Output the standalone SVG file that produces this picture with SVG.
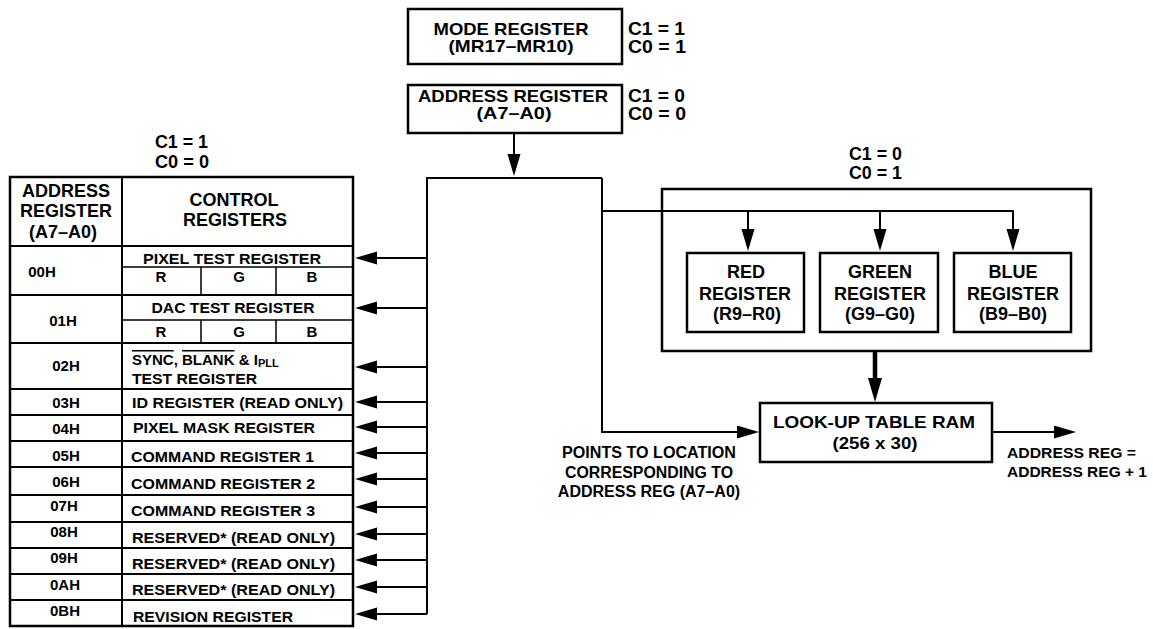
<svg xmlns="http://www.w3.org/2000/svg" width="1153" height="629" viewBox="0 0 1153 629">
<defs>
<style>
text{font-family:"Liberation Sans",Arial,Helvetica,sans-serif;font-weight:bold;fill:#000}
.m{text-anchor:middle}
.h18{font-size:18px}
.h17{font-size:17px}
.h16{font-size:16px}
.b15{font-size:15px}
.box{fill:none;stroke:#000;stroke-width:2.5}
.ln{fill:none;stroke:#000;stroke-width:2}
.thin{fill:none;stroke:#000;stroke-width:1.5}
.conn{fill:none;stroke:#000;stroke-width:2}
.thick{fill:none;stroke:#000;stroke-width:4.5}
.ov{text-decoration:overline}
</style>
<marker id="ah" markerUnits="userSpaceOnUse" markerWidth="23" markerHeight="14" refX="1" refY="6.5" orient="auto"><path d="M0,0 L22,6.5 L0,13 z" fill="#000"/></marker>
<marker id="ahb" markerUnits="userSpaceOnUse" markerWidth="25" markerHeight="15" refX="1" refY="7" orient="auto"><path d="M0,0 L24,7 L0,14 z" fill="#000"/></marker>
</defs>
<rect width="1153" height="629" fill="#fff"/>

<g id="mode-register">
<rect x="408" y="9" width="214" height="55" class="box"/>
<text x="511" y="35" class="m h17" textLength="155" lengthAdjust="spacingAndGlyphs">MODE REGISTER</text>
<text x="511" y="52" class="m h17" textLength="125" lengthAdjust="spacingAndGlyphs">(MR17–MR10)</text>
</g>
<g id="mode-select">
<text x="628" y="35" class="h18" textLength="57" lengthAdjust="spacingAndGlyphs">C1 = 1</text>
<text x="628" y="53" class="h18" textLength="58" lengthAdjust="spacingAndGlyphs">C0 = 1</text>
</g>

<g id="address-register">
<rect x="408" y="85" width="214" height="48" class="box"/>
<text x="513" y="102" class="m h17" textLength="190" lengthAdjust="spacingAndGlyphs">ADDRESS REGISTER</text>
<text x="514" y="119" class="m h17" textLength="75" lengthAdjust="spacingAndGlyphs">(A7–A0)</text>
</g>
<g id="address-select">
<text x="628" y="102" class="h18" textLength="57" lengthAdjust="spacingAndGlyphs">C1 = 0</text>
<text x="628" y="120" class="h18" textLength="58" lengthAdjust="spacingAndGlyphs">C0 = 0</text>
</g>

<g id="control-select">
<text x="155" y="148" class="h18" textLength="53" lengthAdjust="spacingAndGlyphs">C1 = 1</text>
<text x="155" y="168" class="h18" textLength="54" lengthAdjust="spacingAndGlyphs">C0 = 0</text>
</g>

<g id="control-table">
<rect x="10" y="177" width="343" height="449" class="box"/>
<path d="M122,177 V626" class="ln"/>
<path d="M10,246 H353 M10,295 H353 M10,343 H353 M10,389 H353 M10,415 H353 M10,441 H353 M10,467 H353 M10,495 H353 M10,522 H353 M10,548 H353 M10,574 H353 M10,600 H353" class="ln"/>
<path d="M122,267 H353 M201,267 V295 M276,267 V295 M122,320 H353 M201,320 V343 M276,320 V343" class="thin"/>
<text x="66" y="197" class="m h18">ADDRESS</text>
<text x="66" y="217" class="m h18">REGISTER</text>
<text x="63" y="238" class="m h18">(A7–A0)</text>
<text x="234" y="206" class="m h18">CONTROL</text>
<text x="235" y="226" class="m h18">REGISTERS</text>

<text x="42" y="277" class="m b15">00H</text>
<text x="232" y="264" class="m b15" textLength="178" lengthAdjust="spacingAndGlyphs">PIXEL TEST REGISTER</text>
<text x="161" y="282" class="m b15">R</text>
<text x="239" y="282" class="m b15">G</text>
<text x="312" y="282" class="m b15">B</text>

<text x="63" y="326" class="m b15">01H</text>
<text x="233" y="313" class="m b15" textLength="163" lengthAdjust="spacingAndGlyphs">DAC TEST REGISTER</text>
<text x="161" y="337" class="m b15">R</text>
<text x="239" y="337" class="m b15">G</text>
<text x="312" y="337" class="m b15">B</text>

<text x="66" y="371" class="m b15">02H</text>
<text x="132" y="365" class="b15"><tspan class="ov">SYNC</tspan>, <tspan class="ov">BLANK</tspan> &amp; I<tspan font-size="11" dy="2">PLL</tspan></text>
<text x="132" y="384" class="b15" textLength="125" lengthAdjust="spacingAndGlyphs">TEST REGISTER</text>

<text x="66" y="408" class="m b15">03H</text>
<text x="132" y="408" class="b15" textLength="211" lengthAdjust="spacingAndGlyphs">ID REGISTER (READ ONLY)</text>
<text x="66" y="434" class="m b15">04H</text>
<text x="133" y="433" class="b15" textLength="182" lengthAdjust="spacingAndGlyphs">PIXEL MASK REGISTER</text>
<text x="66" y="461" class="m b15">05H</text>
<text x="131" y="462" class="b15" textLength="183" lengthAdjust="spacingAndGlyphs">COMMAND REGISTER 1</text>
<text x="66" y="487" class="m b15">06H</text>
<text x="131" y="489" class="b15" textLength="184" lengthAdjust="spacingAndGlyphs">COMMAND REGISTER 2</text>
<text x="64" y="511" class="m b15">07H</text>
<text x="131" y="516" class="b15" textLength="184" lengthAdjust="spacingAndGlyphs">COMMAND REGISTER 3</text>
<text x="64" y="537" class="m b15">08H</text>
<text x="132" y="543" class="b15" textLength="203" lengthAdjust="spacingAndGlyphs">RESERVED* (READ ONLY)</text>
<text x="64" y="563" class="m b15">09H</text>
<text x="132" y="569" class="b15" textLength="203" lengthAdjust="spacingAndGlyphs">RESERVED* (READ ONLY)</text>
<text x="65" y="590" class="m b15">0AH</text>
<text x="132" y="595" class="b15" textLength="203" lengthAdjust="spacingAndGlyphs">RESERVED* (READ ONLY)</text>
<text x="65" y="616" class="m b15">0BH</text>
<text x="133" y="622" class="b15" textLength="160" lengthAdjust="spacingAndGlyphs">REVISION REGISTER</text>
</g>

<g id="palette-select">
<text x="849" y="160" class="h18" textLength="53" lengthAdjust="spacingAndGlyphs">C1 = 0</text>
<text x="849" y="179" class="h18" textLength="53" lengthAdjust="spacingAndGlyphs">C0 = 1</text>
</g>

<g id="palette-block">
<rect x="662" y="189" width="429" height="162" class="box"/>
</g>
<g id="red-register">
<rect x="687" y="253" width="117" height="79" class="box"/>
<text x="746" y="278" class="m h18">RED</text>
<text x="745" y="300" class="m h18">REGISTER</text>
<text x="747" y="320" class="m h18">(R9–R0)</text>
</g>
<g id="green-register">
<rect x="820" y="253" width="118" height="79" class="box"/>
<text x="880" y="278" class="m h18">GREEN</text>
<text x="880" y="300" class="m h18">REGISTER</text>
<text x="880" y="320" class="m h18">(G9–G0)</text>
</g>
<g id="blue-register">
<rect x="954" y="253" width="117" height="79" class="box"/>
<text x="1013" y="278" class="m h18">BLUE</text>
<text x="1013" y="300" class="m h18">REGISTER</text>
<text x="1013" y="320" class="m h18">(B9–B0)</text>
</g>

<g id="lut">
<rect x="760" y="403" width="232" height="59" class="box"/>
<text x="874" y="428" class="m h17" textLength="202" lengthAdjust="spacingAndGlyphs">LOOK-UP TABLE RAM</text>
<text x="875" y="449" class="m h17" textLength="85" lengthAdjust="spacingAndGlyphs">(256 x 30)</text>
</g>

<g id="notes">
<text x="649" y="458" class="m h16" textLength="174" lengthAdjust="spacingAndGlyphs">POINTS TO LOCATION</text>
<text x="649" y="478" class="m h16" textLength="168" lengthAdjust="spacingAndGlyphs">CORRESPONDING TO</text>
<text x="649" y="497" class="m h16">ADDRESS REG (A7–A0)</text>
<text x="1007" y="458" class="b15" textLength="129" lengthAdjust="spacingAndGlyphs">ADDRESS REG =</text>
<text x="1007" y="477" class="b15" textLength="140" lengthAdjust="spacingAndGlyphs">ADDRESS REG + 1</text>
</g>

<g id="connectors">
<path d="M514,133 V155" class="conn" marker-end="url(#ah)"/>
<path d="M427,614 V178 H602" class="conn"/>
<path d="M602,178 V432 H738" class="conn" marker-end="url(#ah)"/>
<path d="M602,211 H1013 V230" class="conn" marker-end="url(#ah)"/>
<path d="M748,211 V230" class="conn" marker-end="url(#ah)"/>
<path d="M880,211 V230" class="conn" marker-end="url(#ah)"/>
<path d="M875,351 V379" class="thick" marker-end="url(#ahb)"/>
<path d="M992,432 H1055" class="conn" marker-end="url(#ah)"/>
<path d="M427,258 H376 M427,308 H376 M427,367 H376 M427,402 H376 M427,427 H376 M427,453 H376 M427,479 H376 M427,507 H376 M427,534 H376 M427,560 H376 M427,587 H376 M427,614 H376" class="conn"/>
<path d="M380,258 H376" class="conn" marker-end="url(#ah)"/>
<path d="M380,308 H376" class="conn" marker-end="url(#ah)"/>
<path d="M380,367 H376" class="conn" marker-end="url(#ah)"/>
<path d="M380,402 H376" class="conn" marker-end="url(#ah)"/>
<path d="M380,427 H376" class="conn" marker-end="url(#ah)"/>
<path d="M380,453 H376" class="conn" marker-end="url(#ah)"/>
<path d="M380,479 H376" class="conn" marker-end="url(#ah)"/>
<path d="M380,507 H376" class="conn" marker-end="url(#ah)"/>
<path d="M380,534 H376" class="conn" marker-end="url(#ah)"/>
<path d="M380,560 H376" class="conn" marker-end="url(#ah)"/>
<path d="M380,587 H376" class="conn" marker-end="url(#ah)"/>
<path d="M380,614 H376" class="conn" marker-end="url(#ah)"/>
</g>
</svg>
